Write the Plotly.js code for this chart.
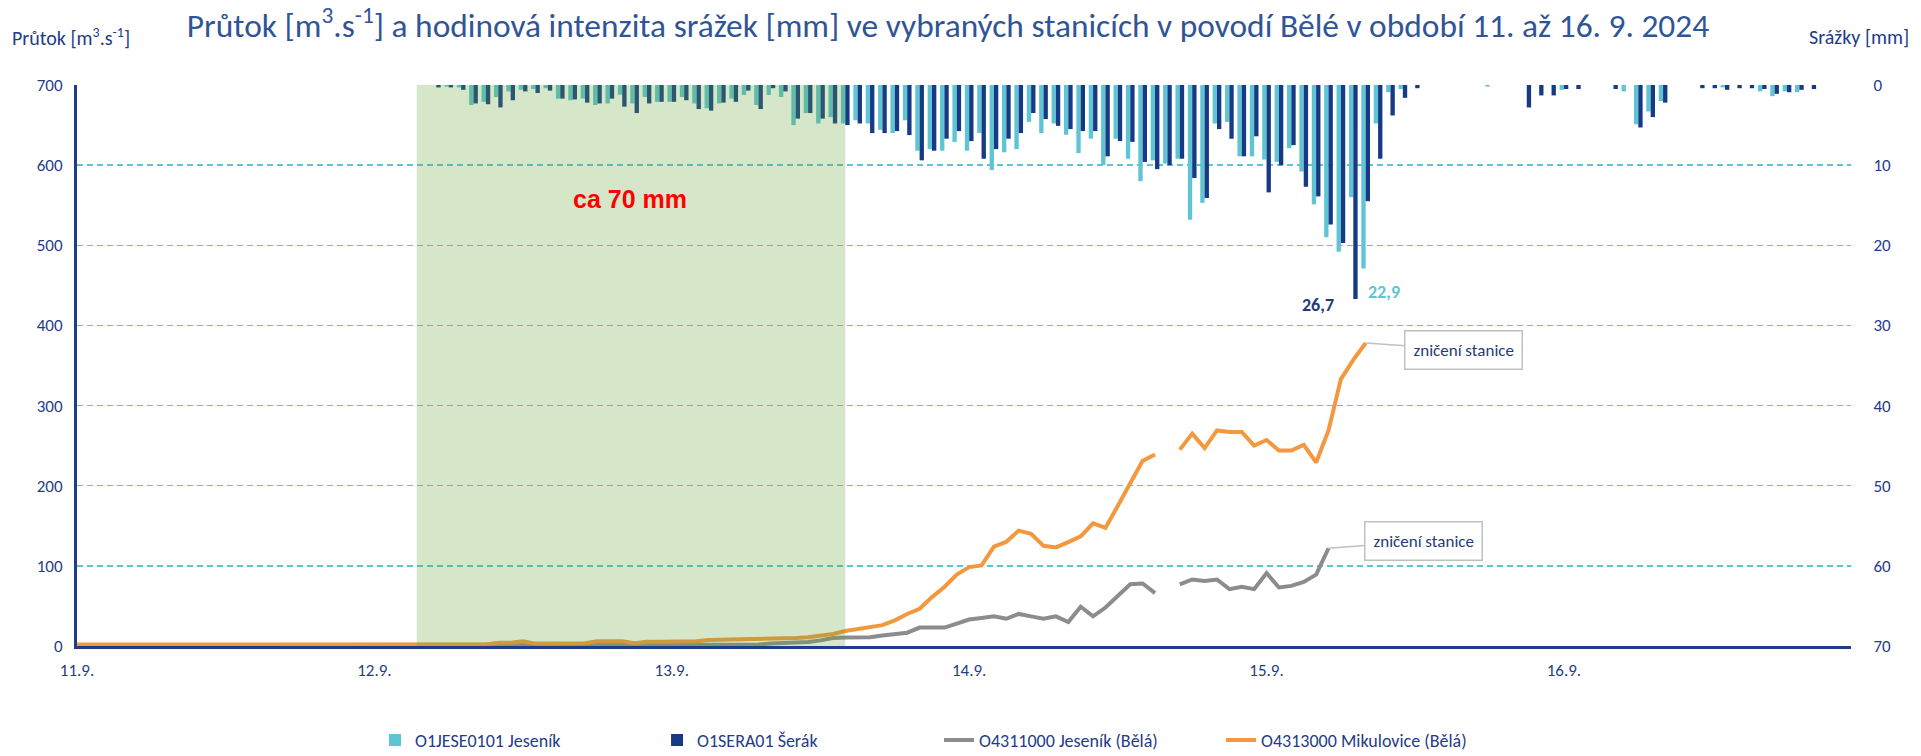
<!DOCTYPE html>
<html>
<head>
<meta charset="utf-8">
<script src="https://cdn.plot.ly/plotly-3.0.1.min.js"></script>
<style>html,body{margin:0;padding:0;background:#fff}#chart{width:1921px;height:756px}</style>
</head>
<body>
<div id="chart"></div>
<script>
// ---------- DATA ----------
// hourly rainfall [mm], first value = 12.9.2024 05:00
const rainStart = '2024-09-12T05:00:00';
const rainJesenik = [
  0,0.2,0.3,2.5,2.1,1.5,0.8,0.6,0.5,0.4,
  1.7,1.9,1.7,2.5,2.3,1.2,2.3,1.5,2.1,2.1,
  1.5,2.3,2.9,2.3,1.7,1.25,2.5,1.25,1.5,5.0,
  3.5,4.8,4.0,4.8,4.4,4.8,5.6,6.0,4.4,8.2,
  8.0,8.2,7.1,8.2,6.0,10.6,8.4,8.0,4.6,6.0,
  4.8,6.2,8.5,6.7,10.0,6.7,9.2,12.0,9.4,9.8,
  9.2,16.8,14.7,4.8,4.6,8.9,8.9,9.3,9.6,7.9,
  10.8,14.9,19.0,20.8,14.0,22.9,4.8,0.9,0.5,0,
  0,0,0,0,0,0.2,0,0,0,0,
  0,0.6,0,0,0,0,0.8,4.9,3.3,2.0,
  0,0,0,0,0.3,0,0,0.8,1.4,0.8,
  0.9,0
];
const rainSerak = [
  0.3,0.3,0.6,2.3,2.4,2.8,1.9,0.8,1.0,0.7,
  1.7,1.8,2.2,2.3,1.7,2.7,3.5,2.3,2.1,2.1,
  1.9,3.0,3.2,2.2,2.1,0.7,3.0,0.4,0.8,4.2,
  3.5,4.2,4.8,5.0,4.8,6.0,6.0,5.75,6.25,9.4,
  8.2,6.7,5.75,7.0,9.2,8.0,6.7,6.0,3.5,4.25,
  5.1,5.5,5.75,5.75,8.9,7.0,7.1,9.6,10.5,10.0,
  9.2,11.6,14.1,5.5,6.7,8.9,6.4,13.4,10.0,7.5,
  12.7,13.9,17.4,19.7,26.7,14.5,9.2,3.8,1.6,0.4,
  0,0,0,0,0,0,0,0,2.8,1.3,
  1.3,0.5,0.5,0,0,0.5,0,5.3,4.0,2.2,
  0,0,0.4,0.4,0.6,0.4,0.4,0.5,1.1,0.9,
  0.6,0.5
];
// hourly discharge [m3/s], first value = 11.9.2024 00:00
const flowStart = '2024-09-11T00:00:00';
const flowJesenikBela = [
  1,1,1,1,1,1,1,1,1,1, 1,1,1,1,1,1,1,1,1,1,
  1,1,1,1,1,1,1,1,1,1, 1,1,1,1,1,1,1,1,1,1,
  2,2,2,2,2,2,2,2,2,2, 2,2,2,2,2,2,3,3.5,4,5,
  7,10,10.5,11,11,13,15,16.6,23,23, 23,28,33,35,37,34,40,37,34,37,
  30,49,37,48,63,77,78,66,null,77, 83,81,83,71,74,71,91,73,75,80,
  89,122
];
const flowMikulovice = [
  2,2,2,2,2,2,2,2,2,2, 2,2,2,2,2,2,2,2,2,2,
  2,2,2,2,2,2,2,2,2,2, 2,2,2,2,4,4.2,6,3,3,3,
  3,3.5,5.8,5.8,5.8,3.5,5.4,5.4,5.4,5.4, 6,7.5,7.9,7.9,8,8,9,9.6,10,11,
  13,15,18.7,21,24,26,32,40,46.5,61, 73.6,89,98.5,100.6,124,130,144,140,125,123,
  129.6,136.7,153,147.5,175,204,231,239,null,245, 265,247,269,267,267,250,257,244,244,251,
  229,269,333,357,378
];
const dayTicks = ['2024-09-11','2024-09-12','2024-09-13','2024-09-14','2024-09-15','2024-09-16'];
const names = ['O1JESE0101 Jeseník','O1SERA01 Šerák','O4311000 Jeseník (Bělá)','O4313000 Mikulovice (Bělá)'];

// hourly time stamps (axis categories only)
function hourly(start, n){
  const t0 = new Date(start + 'Z').getTime(); const out = [];
  for (let i = 0; i < n; i++){ out.push(new Date(t0 + i*3600000).toISOString().slice(0,19).replace('T',' ')); }
  return out;
}

const FONT = "Carlito, Lato, 'Liberation Sans', sans-serif";
const NAVY = '#1f3c88';
const cLight = '#5fc4d3', cDark = '#173a85', cGray = '#8c8c8c', cOrange = '#f4983f';

const traces = [
  {type:'bar', name:names[0], x:hourly(rainStart, rainJesenik.length), y:rainJesenik, yaxis:'y2', marker:{color:cLight}, hoverinfo:'skip'},
  {type:'bar', name:names[1], x:hourly(rainStart, rainSerak.length), y:rainSerak, yaxis:'y2', marker:{color:cDark}, hoverinfo:'skip'},
  {type:'scatter', mode:'lines', name:names[2], x:hourly(flowStart, flowJesenikBela.length), y:flowJesenikBela, line:{color:cGray, width:4}, connectgaps:false},
  {type:'scatter', mode:'lines', name:names[3], x:hourly(flowStart, flowMikulovice.length), y:flowMikulovice, line:{color:cOrange, width:4}, connectgaps:false}
];

const layout = {
  width:1921, height:756,
  margin:{l:77, r:70, t:84.5, b:110.4, pad:0, autoexpand:false},
  paper_bgcolor:'#ffffff', plot_bgcolor:'#ffffff',
  font:{family:FONT, color:NAVY, size:17},
  title:{text:'Průtok [m<sup>3</sup>.s<sup>-1</sup>] a hodinová intenzita srážek [mm] ve vybraných stanicích v povodí Bělé v období 11. až 16. 9. 2024',
         x:0.4935, xref:'container', xanchor:'center', y:0.966, yref:'container', yanchor:'middle',
         font:{family:FONT, size:33.4, color:'#2f5597'}},
  barmode:'group', bargap:0.3, bargroupgap:0,
  showlegend:true,
  legend:{orientation:'h', x:0.168, xanchor:'left', y:-0.168, yanchor:'middle', font:{size:18, color:NAVY}, entrywidth:237, traceorder:'normal', bgcolor:'rgba(0,0,0,0)'},
  xaxis:{type:'date', range:['2024-09-11 00:00','2024-09-16 23:10'], tickmode:'array', tickvals:dayTicks, tickformat:'%-d.%-m.',
         showgrid:false, showline:true, linecolor:NAVY, linewidth:3, ticks:'outside', ticklen:7, tickcolor:'rgba(0,0,0,0)',
         zeroline:false, tickfont:{size:17, color:NAVY}, fixedrange:true},
  yaxis:{range:[0,700], dtick:100, showgrid:true, gridcolor:'#5cc6d6', griddash:'6px,4px', gridwidth:1.5,
         showline:true, linecolor:NAVY, linewidth:3, ticks:'outside', ticklen:8, tickcolor:'rgba(0,0,0,0)',
         zeroline:false, tickfont:{size:17, color:NAVY}},
  yaxis2:{range:[70,0], dtick:10, overlaying:'y', side:'right', showgrid:false, showline:false, zeroline:false,
          ticks:'outside', ticklen:18, tickcolor:'rgba(0,0,0,0)', tickfont:{size:17, color:NAVY}},
  shapes:[{type:'rect', xref:'x', yref:'y', x0:'2024-09-12 03:25', x1:'2024-09-13 14:00', y0:0, y1:700,
           fillcolor:'rgba(100,163,56,0.27)', line:{width:0}, layer:'above'}],
  annotations:[
    {text:'Průtok [m<sup>3</sup>.s<sup>-1</sup>]', xref:'paper', yref:'paper', x:-0.0378, xanchor:'left', y:1.085, yanchor:'middle', showarrow:false, font:{size:20, color:NAVY}},
    {text:'Srážky [mm]', xref:'paper', yref:'paper', x:1.0338, xanchor:'right', y:1.085, yanchor:'middle', showarrow:false, font:{size:20, color:NAVY}},
    {text:'<b>ca 70 mm</b>', xref:'x', yref:'y', x:'2024-09-12 20:40', y:558, showarrow:false, font:{family:"'Liberation Sans', Arial, sans-serif", size:25, color:'#ff0000'}},
    {text:'<b>26,7</b>', xref:'x', yref:'y2', x:'2024-09-15 04:10', y:27.5, showarrow:false, font:{size:18, color:'#1f3c78'}},
    {text:'<b>22,9</b>', xref:'x', yref:'y2', x:'2024-09-15 09:30', y:25.8, showarrow:false, font:{size:18, color:'#5fc4d3'}},
    {text:'zničení stanice', xref:'x', yref:'y', x:'2024-09-15 08:00', y:378, ax:98, ay:7, showarrow:true, arrowhead:0, arrowwidth:1.5, arrowcolor:'#c0c0c0',
     bordercolor:'#c0c0c0', borderwidth:1.5, borderpad:8, bgcolor:'#ffffff', font:{size:17, color:'#1f3c78'}},
    {text:'zničení stanice', xref:'x', yref:'y', x:'2024-09-15 05:00', y:122, ax:95, ay:-7, showarrow:true, arrowhead:0, arrowwidth:1.5, arrowcolor:'#c0c0c0',
     bordercolor:'#c0c0c0', borderwidth:1.5, borderpad:8, bgcolor:'#ffffff', font:{size:17, color:'#1f3c78'}}
  ]
};

Plotly.newPlot('chart', traces, layout, {displayModeBar:false, staticPlot:true});
</script>
</body>
</html>
